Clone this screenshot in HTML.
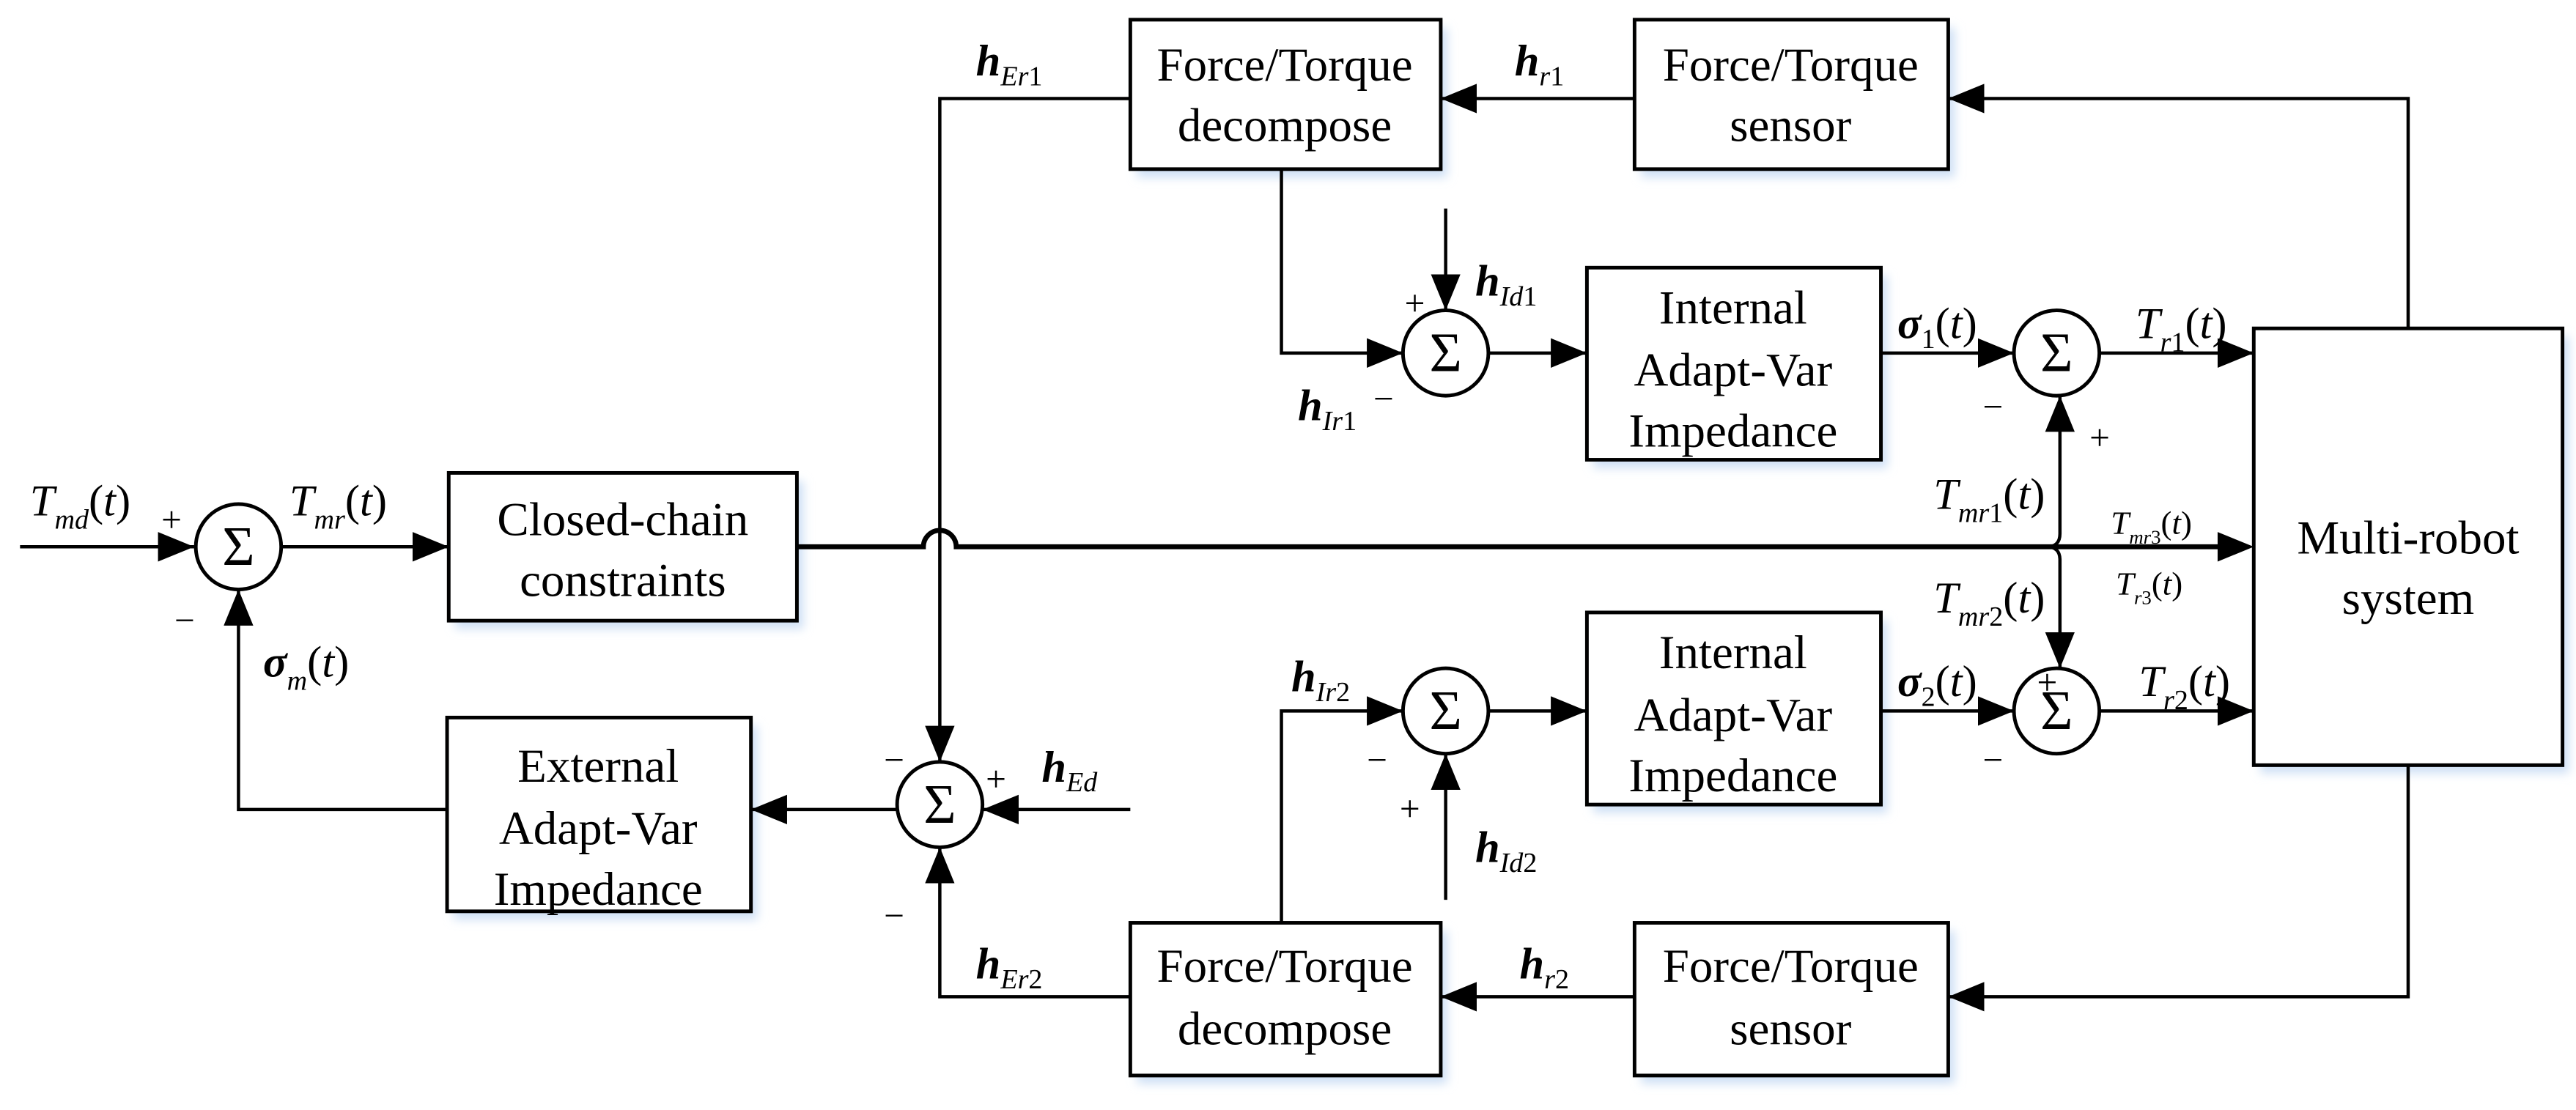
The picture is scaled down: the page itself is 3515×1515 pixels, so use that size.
<!DOCTYPE html>
<html><head><meta charset="utf-8"><style>
html,body{margin:0;padding:0;background:#fff}
svg{display:block}
text{font-family:"Liberation Serif",serif;fill:#000}
.b{font-size:29px;text-anchor:middle}
.l{font-size:27px;font-style:italic}
.sm{font-size:22px}
.n{font-style:normal}
.nb{font-style:normal;font-weight:normal}
.w{font-weight:normal}
</style></head><body>
<svg width="3515" height="1515" viewBox="0 0 1568 676" xmlns="http://www.w3.org/2000/svg">
<defs>
<marker id="a" markerWidth="24" markerHeight="18" refX="22" refY="9" orient="auto" markerUnits="userSpaceOnUse"><path d="M0,0 L22,9 L0,18 z" fill="#000"/></marker>
<filter id="sh" x="-10%" y="-10%" width="130%" height="130%"><feGaussianBlur stdDeviation="3"/></filter>
</defs>
<g fill="#cfe0f5" filter="url(#sh)">
<rect x="277" y="293" width="212" height="90"/><rect x="276" y="442" width="185" height="118"/>
<rect x="692" y="17" width="189" height="91"/><rect x="999" y="17" width="191" height="91"/>
<rect x="970" y="168" width="179" height="117"/><rect x="970" y="378" width="179" height="117"/>
<rect x="692" y="567" width="189" height="93"/><rect x="999" y="567" width="191" height="93"/>
<rect x="1376" y="205" width="188" height="266"/>
</g>
<g fill="#fff" stroke="#000" stroke-width="2.2">
<rect x="273" y="288" width="212" height="90"/>
<rect x="272" y="437" width="185" height="118"/>
<rect x="688" y="12" width="189" height="91"/>
<rect x="995" y="12" width="191" height="91"/>
<rect x="966" y="163" width="179" height="117"/>
<rect x="966" y="373" width="179" height="117"/>
<rect x="688" y="562" width="189" height="93"/>
<rect x="995" y="562" width="191" height="93"/>
<rect x="1372" y="200" width="188" height="266"/>
</g>
<g fill="none" stroke="#000" stroke-width="2" marker-end="url(#a)">
<line x1="12" y1="333" x2="118" y2="333"/>
<line x1="171" y1="333" x2="273" y2="333"/>
<polyline points="272,493 145,493 145,359"/>
<line x1="546" y1="493" x2="457" y2="493"/>
<line x1="688" y1="493" x2="598" y2="493"/>
<polyline points="688,60 572,60 572,464"/>
<polyline points="688,607 572,607 572,516"/>
<line x1="995" y1="60" x2="877" y2="60"/>
<polyline points="1466,200 1466,60 1186,60"/>
<line x1="995" y1="607" x2="877" y2="607"/>
<polyline points="1466,466 1466,607 1186,607"/>
<polyline points="780,103 780,215 854,215"/>
<line x1="880" y1="127" x2="880" y2="189"/>
<line x1="906" y1="215" x2="966" y2="215"/>
<line x1="1145" y1="215" x2="1226" y2="215"/>
<line x1="1278" y1="215" x2="1372" y2="215"/>
<polyline points="780,562 780,433 854,433"/>
<line x1="880" y1="548" x2="880" y2="459"/>
<line x1="906" y1="433" x2="966" y2="433"/>
<line x1="1145" y1="433" x2="1226" y2="433"/>
<line x1="1278" y1="433" x2="1372" y2="433"/>
<path d="M1246,333 Q1254,333 1254,325 L1254,241"/>
<path d="M1246,333 Q1254,333 1254,341 L1254,407"/>
</g>
<path d="M485,333 L562,333 A10,10 0 0 1 582,333 L1352,333" fill="none" stroke="#000" stroke-width="3"/>
<path d="M1350,324 L1372,333 L1350,342z" fill="#000"/>
<g fill="#fff" stroke="#000" stroke-width="2.2">
<circle cx="145" cy="333" r="26"/><circle cx="572" cy="490" r="26"/>
<circle cx="880" cy="215" r="26"/><circle cx="1252" cy="215" r="26"/>
<circle cx="880" cy="433" r="26"/><circle cx="1252" cy="433" r="26"/>
</g>
<g>
<text x="145" y="344" class="b" style="font-size:34px">Σ</text><text x="572" y="501" class="b" style="font-size:34px">Σ</text>
<text x="880" y="226" class="b" style="font-size:34px">Σ</text><text x="1252" y="226" class="b" style="font-size:34px">Σ</text>
<text x="880" y="444" class="b" style="font-size:34px">Σ</text><text x="1252" y="444" class="b" style="font-size:34px">Σ</text>
</g>
<text class="b" x="379" y="326">Closed-chain</text><text class="b" x="379" y="363">constraints</text>
<text class="b" x="364" y="476">External</text><text class="b" x="364" y="514">Adapt-Var</text><text class="b" x="364" y="551">Impedance</text>
<text class="b" x="782" y="49">Force/Torque</text><text class="b" x="782" y="86">decompose</text>
<text class="b" x="1090" y="49">Force/Torque</text><text class="b" x="1090" y="86">sensor</text>
<text class="b" x="782" y="598">Force/Torque</text><text class="b" x="782" y="636">decompose</text>
<text class="b" x="1090" y="598">Force/Torque</text><text class="b" x="1090" y="636">sensor</text>
<text class="b" x="1055" y="197">Internal</text><text class="b" x="1055" y="235">Adapt-Var</text><text class="b" x="1055" y="272">Impedance</text>
<text class="b" x="1055" y="407">Internal</text><text class="b" x="1055" y="445">Adapt-Var</text><text class="b" x="1055" y="482">Impedance</text>
<text class="b" x="1466" y="337">Multi-robot</text><text class="b" x="1466" y="374">system</text>
<g class="sm">
<text x="98" y="324">+</text><text x="106" y="385">−</text>
<text x="538" y="470">−</text><text x="600" y="482">+</text><text x="538" y="565">−</text>
<text x="855" y="192">+</text><text x="836" y="250">−</text>
<text x="1207" y="255">−</text><text x="1272" y="274">+</text>
<text x="832" y="470">−</text><text x="852" y="500">+</text>
<text x="1207" y="470">−</text><text x="1240" y="423">+</text>
</g>
<g class="l">
<text x="18" y="314">T<tspan font-size="17" dy="8">md</tspan><tspan dy="-8" class="n">(</tspan>t<tspan class="n">)</tspan></text>
<text x="176" y="314">T<tspan font-size="17" dy="8">mr</tspan><tspan dy="-8" class="n">(</tspan>t<tspan class="n">)</tspan></text>
<text x="160" y="412" font-weight="bold">σ<tspan font-size="17" dy="8" class="w">m</tspan><tspan dy="-8" class="nb">(</tspan><tspan class="w">t</tspan><tspan class="nb">)</tspan></text>
<text x="594" y="46" font-weight="bold">h<tspan font-size="17" dy="6" class="w">Er</tspan><tspan font-size="17" class="nb">1</tspan></text>
<text x="922" y="46" font-weight="bold">h<tspan font-size="17" dy="6" class="w">r</tspan><tspan font-size="17" class="nb">1</tspan></text>
<text x="898" y="180" font-weight="bold">h<tspan font-size="17" dy="6" class="w">Id</tspan><tspan font-size="17" class="nb">1</tspan></text>
<text x="790" y="256" font-weight="bold">h<tspan font-size="17" dy="6" class="w">Ir</tspan><tspan font-size="17" class="nb">1</tspan></text>
<text x="634" y="476" font-weight="bold">h<tspan font-size="17" dy="6" class="w">Ed</tspan></text>
<text x="594" y="596" font-weight="bold">h<tspan font-size="17" dy="6" class="w">Er</tspan><tspan font-size="17" class="nb">2</tspan></text>
<text x="925" y="596" font-weight="bold">h<tspan font-size="17" dy="6" class="w">r</tspan><tspan font-size="17" class="nb">2</tspan></text>
<text x="786" y="421" font-weight="bold">h<tspan font-size="17" dy="6" class="w">Ir</tspan><tspan font-size="17" class="nb">2</tspan></text>
<text x="898" y="525" font-weight="bold">h<tspan font-size="17" dy="6" class="w">Id</tspan><tspan font-size="17" class="nb">2</tspan></text>
<text x="1155" y="206" font-weight="bold">σ<tspan font-size="17" dy="6" class="nb">1</tspan><tspan dy="-6" class="nb">(</tspan><tspan class="w">t</tspan><tspan class="nb">)</tspan></text>
<text x="1155" y="424" font-weight="bold">σ<tspan font-size="17" dy="6" class="nb">2</tspan><tspan dy="-6" class="nb">(</tspan><tspan class="w">t</tspan><tspan class="nb">)</tspan></text>
<text x="1300" y="206">T<tspan font-size="17" dy="8">r</tspan><tspan font-size="17" class="n">1</tspan><tspan dy="-8" class="n">(</tspan>t<tspan class="n">)</tspan></text>
<text x="1302" y="424">T<tspan font-size="17" dy="8">r</tspan><tspan font-size="17" class="n">2</tspan><tspan dy="-8" class="n">(</tspan>t<tspan class="n">)</tspan></text>
<text x="1177" y="310">T<tspan font-size="17" dy="8">mr</tspan><tspan font-size="17" class="n">1</tspan><tspan dy="-8" class="n">(</tspan>t<tspan class="n">)</tspan></text>
<text x="1177" y="373">T<tspan font-size="17" dy="8">mr</tspan><tspan font-size="17" class="n">2</tspan><tspan dy="-8" class="n">(</tspan>t<tspan class="n">)</tspan></text>
<text x="1285" y="325" font-size="20">T<tspan font-size="12" dy="6">mr</tspan><tspan font-size="12" class="n">3</tspan><tspan dy="-6" class="n">(</tspan>t<tspan class="n">)</tspan></text>
<text x="1288" y="362" font-size="20">T<tspan font-size="12" dy="6">r</tspan><tspan font-size="12" class="n">3</tspan><tspan dy="-6" class="n">(</tspan>t<tspan class="n">)</tspan></text>
</g>
</svg>
</body></html>
